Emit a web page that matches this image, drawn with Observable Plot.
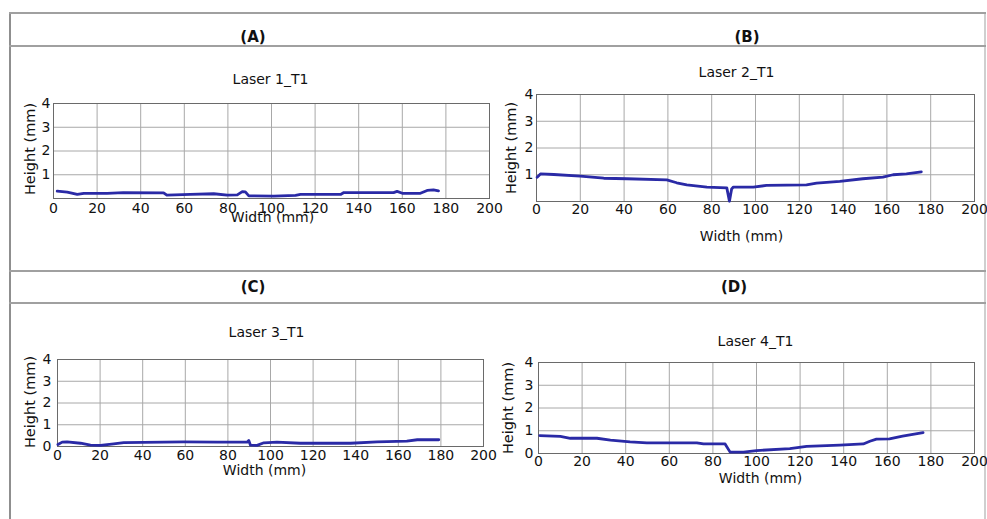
<!DOCTYPE html>
<html>
<head>
<meta charset="utf-8">
<script src="https://cdn.jsdelivr.net/npm/d3@7"></script>
<script src="https://cdn.jsdelivr.net/npm/@observablehq/plot@0.6"></script>
<style>
  body { margin: 0; background: #fff; }
  #page { position: relative; width: 987px; height: 519px; overflow: hidden; background: #fff; font-family: "DejaVu Sans", sans-serif; color: #111; }
  .hl { position: absolute; height: 2px; background: #a0a0a0; }
  .vl { position: absolute; width: 2px; background: #a0a0a0; }
  .hdr { position: absolute; font-weight: bold; font-size: 15px; transform: translate(-50%, -50%); white-space: nowrap; }
  .panel { position: absolute; }
</style>
</head>
<body>
<div id="page"></div>
<script>
// ---------- data ----------
const widthTicks = [0, 20, 40, 60, 80, 100, 120, 140, 160, 180, 200];
const heightTicksTop = [1, 2, 3, 4];
const heightTicksBottom = [0, 1, 2, 3, 4];
const heightGrid = [1, 2, 3];
const panelLetters = ["(A)", "(B)", "(C)", "(D)"];
const panelTitles = ["Laser 1_T1", "Laser 2_T1", "Laser 3_T1", "Laser 4_T1"];
const xLabel = "Width (mm)";
const yLabel = "Height (mm)";

const laser1Width  = [1.7, 6.3, 10.9, 13.9, 24.6, 32, 50.5, 52, 62.8, 73.5, 79.7, 84.3, 86.6, 88, 89.6, 101, 111, 113.3, 131.7, 133.2, 156, 157.6, 160, 168.3, 171.4, 174.3, 176.6];
const laser1Height = [0.31, 0.27, 0.17, 0.22, 0.22, 0.25, 0.24, 0.14, 0.17, 0.2, 0.14, 0.15, 0.29, 0.28, 0.11, 0.1, 0.13, 0.17, 0.17, 0.25, 0.25, 0.3, 0.22, 0.22, 0.34, 0.36, 0.32];

const laser2Width  = [0.3, 1.8, 7.9, 20, 30.7, 41.3, 59.5, 64, 68.6, 77.8, 86.9, 88.1, 89.1, 89.9, 99, 105, 123.3, 127.9, 138.5, 149, 158.2, 162.8, 168.9, 175.7];
const laser2Height = [0.91, 1.03, 1.01, 0.95, 0.87, 0.85, 0.81, 0.7, 0.62, 0.54, 0.51, 0.01, 0.47, 0.54, 0.54, 0.6, 0.62, 0.69, 0.75, 0.85, 0.91, 1.0, 1.03, 1.11];

const laser3Width  = [0.2, 2.2, 4.5, 10.8, 15.5, 20.2, 26.4, 31.1, 59.3, 75, 89, 89.8, 90.6, 93.7, 96.9, 103, 114, 137.6, 150, 164, 168.9, 179];
const laser3Height = [0.09, 0.2, 0.21, 0.15, 0.06, 0.05, 0.12, 0.18, 0.21, 0.2, 0.2, 0.28, 0.06, 0.05, 0.17, 0.2, 0.15, 0.15, 0.21, 0.25, 0.31, 0.31];

const laser4Width  = [0.6, 10, 14.6, 26.8, 33, 42, 49.7, 72.6, 75.7, 85.6, 87.9, 94, 100, 115.3, 123, 138.2, 149, 152, 155, 161, 167, 176.4];
const laser4Height = [0.79, 0.75, 0.67, 0.67, 0.59, 0.51, 0.47, 0.47, 0.42, 0.42, 0.06, 0.06, 0.13, 0.21, 0.31, 0.37, 0.42, 0.54, 0.63, 0.64, 0.76, 0.92];

const seriesWidth = [laser1Width, laser2Width, laser3Width, laser4Width];
const seriesHeight = [laser1Height, laser2Height, laser3Height, laser4Height];

// ---------- layout ----------
const page = document.getElementById("page");
function addDiv(cls, css) {
  const d = document.createElement("div");
  d.className = cls;
  Object.assign(d.style, css);
  page.appendChild(d);
  return d;
}
// frame lines
addDiv("vl", {left: "9px", top: "12px", height: "507px", background: "#8f8f8f"});
addDiv("vl", {left: "984px", top: "12px", height: "507px", background: "#cfcfcf"});
addDiv("hl", {left: "9px", top: "12px", width: "977px"});
addDiv("hl", {left: "9px", top: "45px", width: "977px"});
addDiv("hl", {left: "9px", top: "270px", width: "977px"});
addDiv("hl", {left: "9px", top: "302px", width: "977px"});

const headerPos = [[253, 37], [747, 37], [253, 287], [734, 287]];
panelLetters.forEach((t, i) => {
  const d = addDiv("hdr", {left: headerPos[i][0] + "px", top: headerPos[i][1] + "px"});
  d.textContent = t;
});

// panel geometry: svg box and plotting frame (page coords)
const layout = [
  {L: 12,  T: 48,  W: 488, H: 220, fx0: 53,  fx1: 489, fy0: 103, fy1: 198, xPad: 5, yPad: 3, yTicks: heightTicksTop,
   title: [-1, -24], xlab: [1, 19], ylab: [-23, -2]},
  {L: 495, T: 48,  W: 489, H: 220, fx0: 536, fx1: 974, fy0: 94,  fy1: 201, xPad: 3, yPad: 3, yTicks: heightTicksTop,
   title: [-19, -22], xlab: [-14, 35], ylab: [-25, 0]},
  {L: 12,  T: 305, W: 488, H: 212, fx0: 57,  fx1: 483, fy0: 359, fy1: 446, xPad: 4, yPad: 6, yTicks: heightTicksBottom,
   title: [-4, -27], xlab: [-6, 24], ylab: [-27, -1]},
  {L: 495, T: 305, W: 489, H: 212, fx0: 538, fx1: 974, fy0: 362, fy1: 453, xPad: 3, yPad: 5, yTicks: heightTicksBottom,
   title: [-1, -21], xlab: [4, 25], ylab: [-30, 0]}
];

const lineColor = "#2a2aa6";
const gridColor = "#a8a8a8";

layout.forEach((g, i) => {
  const table = seriesWidth[i].map((w, k) => ({w, h: seriesHeight[i][k]}));
  const chart = Plot.plot({
    width: g.W,
    height: g.H,
    marginLeft: g.fx0 - g.L,
    marginRight: g.L + g.W - g.fx1,
    marginTop: g.fy0 - g.T,
    marginBottom: g.T + g.H - g.fy1,
    style: {fontFamily: "DejaVu Sans, sans-serif", fontSize: "14px", background: "transparent", overflow: "visible", color: "#111"},
    x: {domain: [0, 200]},
    y: {domain: [0, 4]},
    marks: [
      Plot.gridX(widthTicks.slice(1, -1), {stroke: gridColor, strokeOpacity: 1}),
      Plot.gridY(heightGrid, {stroke: gridColor, strokeOpacity: 1}),
      Plot.frame({stroke: "#6a6a6a"}),
      Plot.line(table, {x: "w", y: "h", stroke: lineColor, strokeWidth: 2.8, strokeLinejoin: "round", curve: "linear"}),
      Plot.axisX(widthTicks, {anchor: "bottom", tickSize: 0, tickPadding: g.xPad, fontSize: 14, label: null}),
      Plot.axisY(g.yTicks, {anchor: "left", tickSize: 0, tickPadding: g.yPad, fontSize: 14, label: null}),
      Plot.text([panelTitles[i]], {text: d => d, frameAnchor: "top", textAnchor: "middle", lineAnchor: "middle", dx: g.title[0], dy: g.title[1], fontSize: 14}),
      Plot.text([xLabel], {text: d => d, frameAnchor: "bottom", textAnchor: "middle", lineAnchor: "middle", dx: g.xlab[0], dy: g.xlab[1], fontSize: 14}),
      Plot.text([yLabel], {text: d => d, frameAnchor: "left", textAnchor: "middle", lineAnchor: "middle", dx: g.ylab[0], dy: g.ylab[1], rotate: -90, fontSize: 14.5})
    ]
  });
  chart.classList.add("panel");
  chart.style.left = g.L + "px";
  chart.style.top = g.T + "px";
  chart.style.maxWidth = "none";
  page.appendChild(chart);
});
</script>
</body>
</html>
